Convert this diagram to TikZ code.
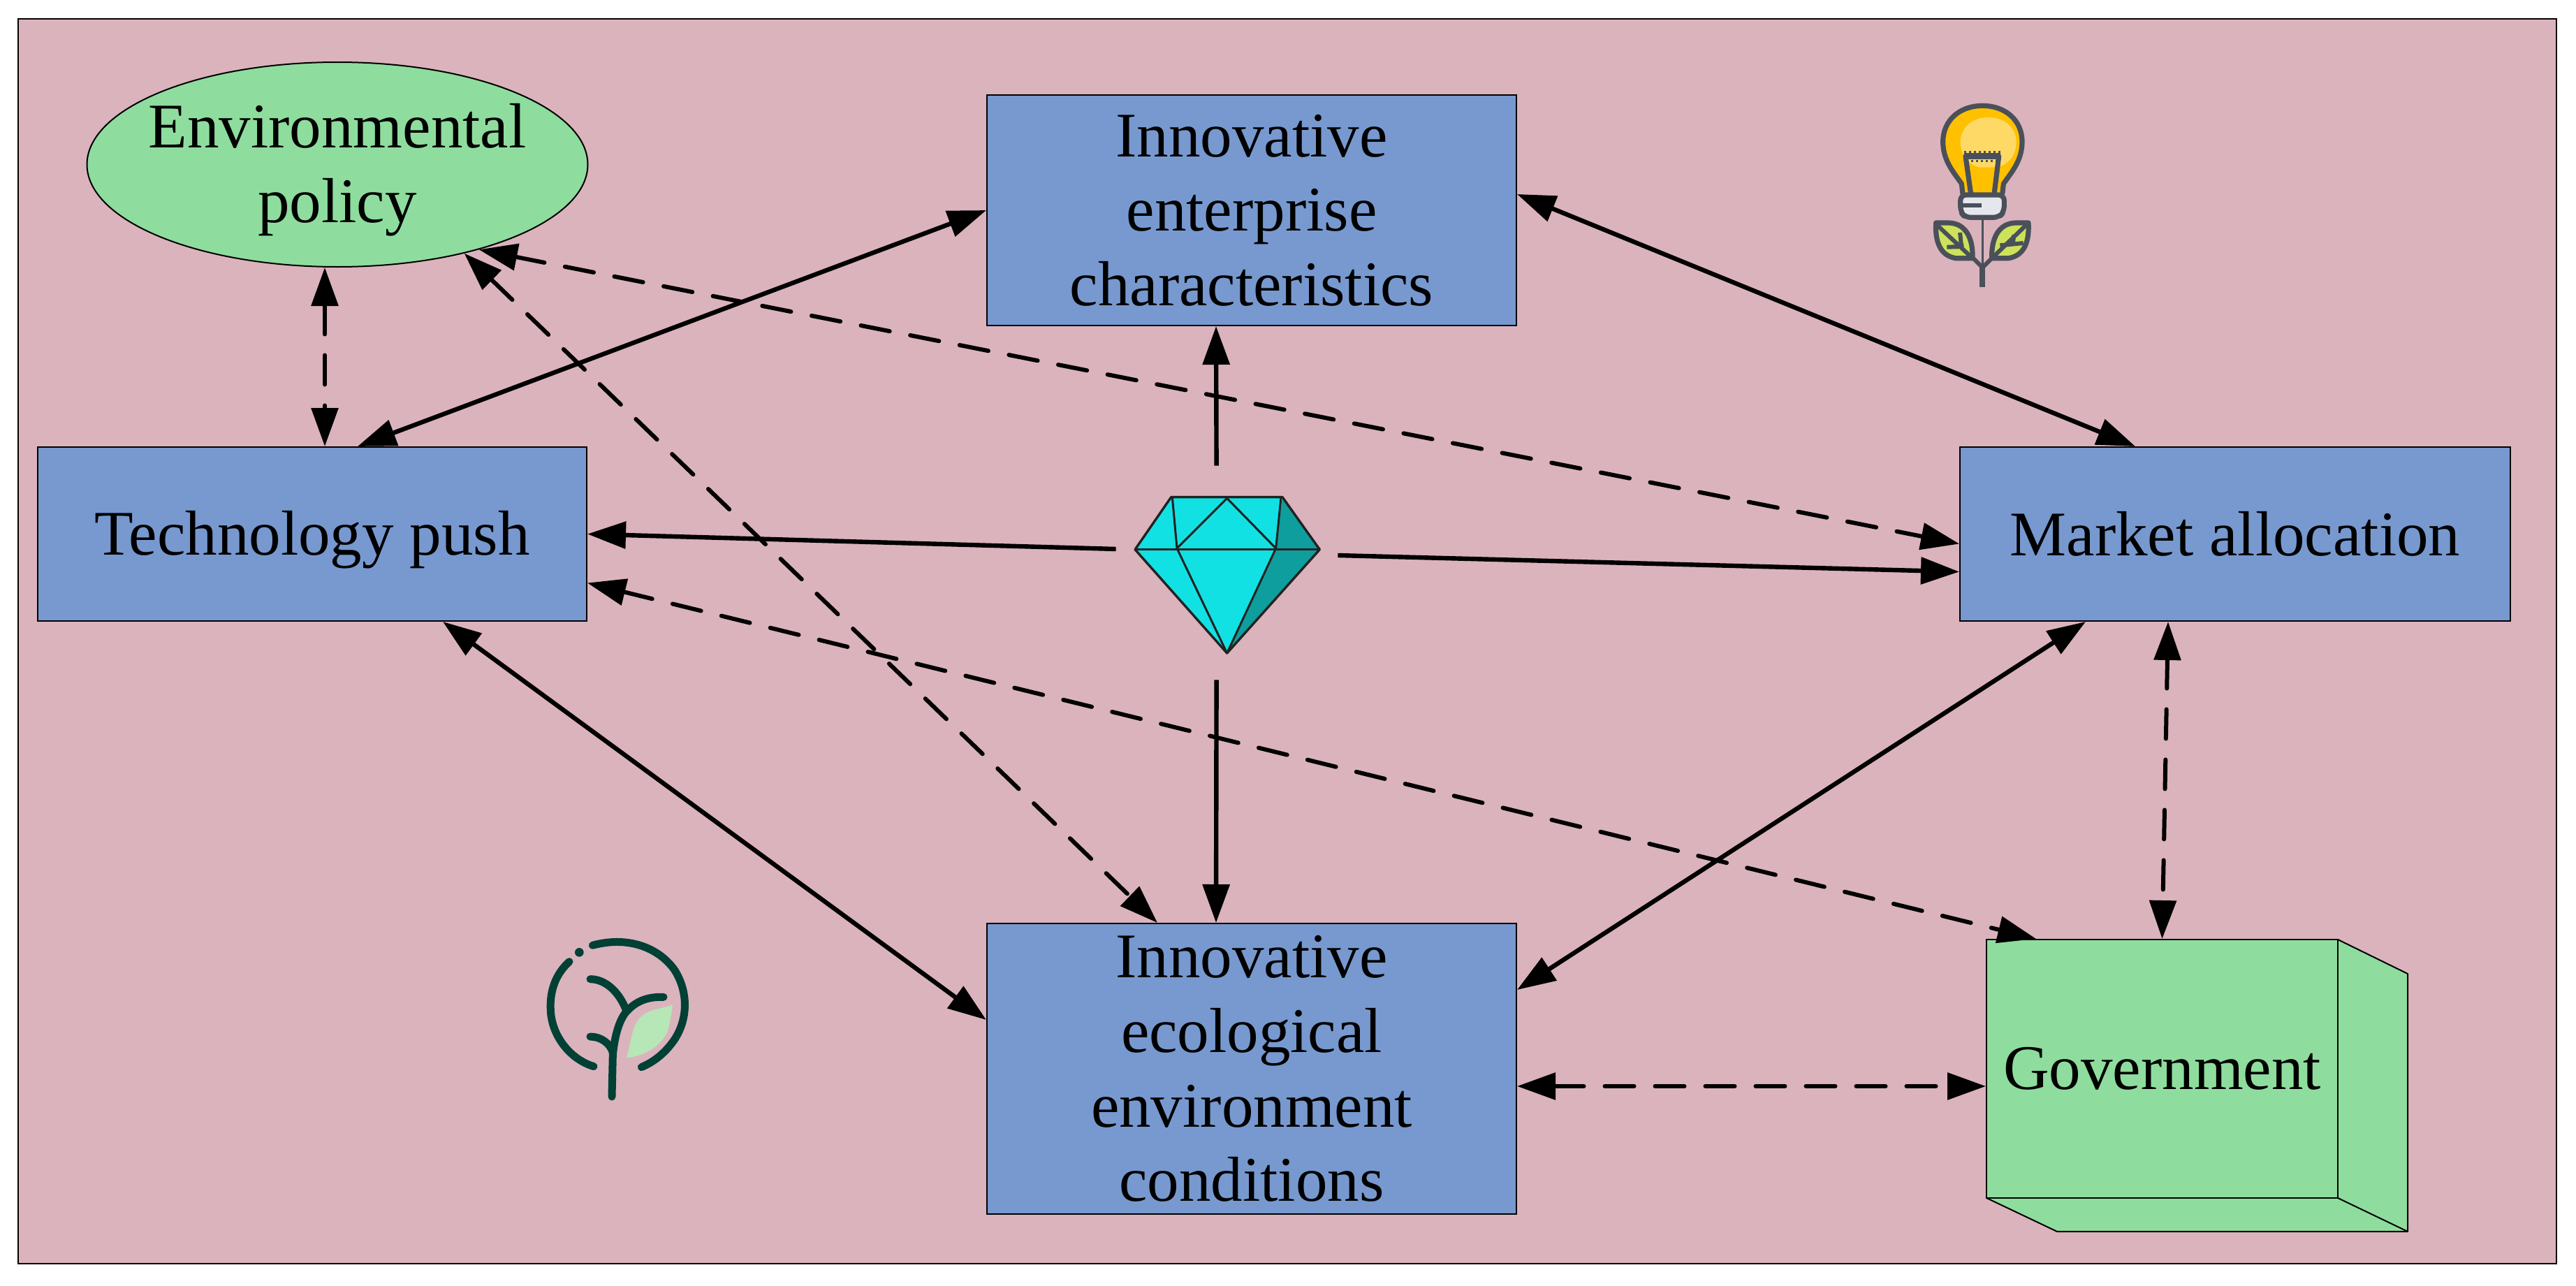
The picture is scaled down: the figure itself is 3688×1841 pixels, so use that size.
\documentclass[tikz,border=0pt]{standalone}
\usepackage{fontspec}
\setmainfont{Liberation Serif}
\usetikzlibrary{arrows.meta,calc,shapes.geometric}
\definecolor{bgpink}{HTML}{DBB3BD}
\definecolor{boxblue}{HTML}{7799CF}
\definecolor{boxgreen}{HTML}{8EDD9E}
\definecolor{gemlight}{HTML}{12E1E4}
\definecolor{gemdark}{HTML}{0E9E9E}
\definecolor{gemline}{HTML}{222222}
\definecolor{bulbline}{HTML}{4A505A}
\definecolor{bulbyellow}{HTML}{FFC000}
\definecolor{bulbpale}{HTML}{FFD966}
\definecolor{bulbbase}{HTML}{E4E7EC}
\definecolor{leafgreen}{HTML}{CDE25A}
\definecolor{treeline}{HTML}{004035}
\definecolor{treeleaf}{HTML}{B7E6B7}
\tikzset{
  px/.style={x=0.5pt,y=-0.5pt},
  txt/.style={align=center,font=\fontsize{45.5}{53.3}\selectfont,text=black,inner sep=0pt},
  bluebox/.style={txt,draw=black,line width=1pt,fill=boxblue,rectangle},
  greenbox/.style={txt,draw=black,line width=1pt,fill=boxgreen},
  tip/.tip={Triangle[length=27.5pt,width=19pt]},
  solidarrow/.style={line width=3.2pt,black},
  dasharrow/.style={line width=3pt,black,line cap=round,dash pattern=on 21pt off 15pt},
}
\begin{document}
\begin{tikzpicture}[px]
\useasboundingbox (0,0) rectangle (3688,1841);
\fill[white] (0,0) rectangle (3688,1841);
\draw[line width=1.2pt,fill=bgpink] (26,27) rectangle (3660,1809);

% Nodes
\node[greenbox,ellipse,minimum width=358.5pt,minimum height=146.5pt] (env) at (483,235.5) {};
\node[txt] (envlabel) at (483,243) {Environmental\\policy};
\node[bluebox,minimum width=379pt,minimum height=165pt] (ent) at (1792,301) {Innovative\\enterprise\\characteristics};
\node[bluebox,minimum width=393pt,minimum height=124.5pt,text depth=2pt] (tech) at (447,764.5) {Technology push};
\node[bluebox,minimum width=394pt,minimum height=124.5pt] (mkt) at (3200,764.5) {Market allocation};
\node[bluebox,minimum width=379pt,minimum height=208pt] (eco) at (1792,1530) {Innovative\\ecological\\environment\\conditions};
% Government box: side faces, then the front node
\fill[boxgreen,draw=black,line width=1pt,line join=round] (3347,1345) -- (3447,1394) -- (3447,1763) -- (2945,1763) -- (2844,1715) -- cycle;
\draw[line width=1pt] (3347,1715) -- (3447,1763);
\node[greenbox,rectangle,minimum width=251.5pt,minimum height=185pt] (gov) at (3095.5,1530) {Government};
% Gem placeholder
\node[rectangle,inner sep=0pt,minimum width=158.5pt,minimum height=153pt] (gem) at (1756.5,820) {};

% Gem drawing
\begin{scope}[shift={(1560,640)},x=0.16667pt,y=-0.16667pt,line join=round]
\fill[gemlight] (350,215) -- (828,215) -- (988,440) -- (590,885) -- (195,440) -- cycle;
\fill[gemdark] (828,215) -- (988,440) -- (590,885) -- (800,435) -- cycle;
\draw[gemline,line width=1.7pt] (350,215) -- (828,215) -- (988,440) -- (590,885) -- (195,440) -- cycle;
\draw[gemline,line width=1.5pt] (195,440) -- (988,440);
\draw[gemline,line width=1.5pt] (355,215) -- (375,435) -- (590,220) -- (800,435) -- (822,215);
\draw[gemline,line width=1.5pt] (375,435) -- (590,885) -- (800,435);
\end{scope}

% Bulb
\begin{scope}[shift={(2700,103)},x=0.16667pt,y=-0.16667pt,line join=round]
\fill[bulbyellow] (330,525) -- (325,480) .. controls (290,430) and (245,380) .. (245,300) .. controls (245,205) and (320,145) .. (415,145) .. controls (510,145) and (585,205) .. (585,300) .. controls (585,380) and (540,430) .. (505,480) -- (500,525) -- cycle;
\fill[bulbpale] (320,300) .. controls (320,240) and (370,195) .. (440,195) .. controls (510,195) and (560,240) .. (560,300) .. controls (560,370) and (510,415) .. (440,415) .. controls (370,415) and (320,370) .. (320,300) -- cycle;
\fill[bulbyellow] (365,410) -- (470,410) -- (465,520) -- (375,520) -- cycle;
\draw[bulbline,line width=3.6pt] (330,525) -- (325,480) .. controls (290,430) and (245,380) .. (245,300) .. controls (245,205) and (320,145) .. (415,145) .. controls (510,145) and (585,205) .. (585,300) .. controls (585,380) and (540,430) .. (505,480) -- (500,525);
\draw[bulbline,line width=3.6pt] (365,525) -- (342,362) -- (485,362) -- (465,525);
\draw[bulbline,line width=4.2pt] (335,362) -- (492,362);
\draw[bulbline,line width=1.2pt,dash pattern=on 1.5pt off 2pt] (335,343) -- (495,343) (345,382) -- (480,382);
\draw[bulbline,line width=1.7pt] (415,630) -- (415,925);
\draw[bulbline,line width=4pt] (415,840) -- (415,925);
\draw[bulbline,line width=3pt] (375,800) -- (415,840) -- (455,800);
\draw[bulbline,line width=3.6pt,fill=bulbbase,rounded corners=4pt] (320,528) -- (508,528) -- (508,600) -- (485,625) -- (340,625) -- (320,600) -- cycle;
\draw[bulbline,line width=3pt] (330,572) -- (410,572);
\draw[bulbline,line width=3.6pt,fill=leafgreen] (215,648) -- (270,648) .. controls (340,650) and (375,710) .. (372,800) -- (300,800) .. controls (240,790) and (210,740) .. (215,648) -- cycle;
\draw[bulbline,line width=3.6pt,fill=leafgreen] (612,648) -- (557,648) .. controls (487,650) and (452,710) .. (455,800) -- (527,800) .. controls (587,790) and (617,740) .. (612,648) -- cycle;
\draw[bulbline,line width=3pt] (222,660) -- (372,800) (262,752) -- (335,750) (318,690) -- (325,755);
\draw[bulbline,line width=3pt] (605,655) -- (455,800) (490,745) -- (590,735) (550,700) -- (545,740);
\end{scope}

% Tree
\begin{scope}[shift={(740,1310)},x=0.16667pt,y=-0.16667pt,line cap=round,line join=round]
\fill[treeleaf] (668,385) .. controls (620,405) and (570,400) .. (530,440) .. controls (490,480) and (490,560) .. (470,612) .. controls (540,610) and (640,560) .. (655,470) .. controls (660,440) and (668,410) .. (668,385) -- cycle;
\draw[treeline,line width=5.5pt] (325,130) .. controls (490,85) and (620,150) .. (680,240) .. controls (740,340) and (730,450) .. (680,530) .. controls (640,590) and (590,630) .. (535,653);
\draw[treeline,line width=5.5pt] (225,200) .. controls (170,250) and (140,320) .. (145,410) .. controls (150,520) and (230,620) .. (330,650);
\fill[treeline] (268,160) circle [radius=19];
\draw[treeline,line width=5.5pt] (408,780) -- (412,600) .. controls (420,520) and (440,440) .. (480,405) .. controls (520,365) and (570,350) .. (630,352);
\draw[treeline,line width=5.5pt] (315,275) .. controls (380,275) and (440,330) .. (470,410);
\draw[treeline,line width=5.5pt] (315,522) .. controls (360,522) and (400,550) .. (412,590);
\end{scope}

% Solid double-headed
\draw[solidarrow,tip-tip] (ent.west) -- ($(tech.north west)+(459,0)$);
\draw[solidarrow,tip-tip] ($(ent.east)+(0,-23)$) -- ($(mkt.north west)+(252,0)$);
\draw[solidarrow,tip-tip] ($(tech.south west)+(581,0)$) -- ($(eco.north west)+(0,139)$);
\draw[solidarrow,tip-tip] ($(eco.north east)+(0,96)$) -- ($(mkt.south west)+(181,0)$);
% From the gem
\draw[solidarrow,-tip] ($(gem.north west)+(144,0)$) -- ($(ent.south west)+(329,0)$);
\draw[solidarrow,-tip] ($(gem.west)+(0,-34)$) -- (tech.east);
\draw[solidarrow,-tip] ($(gem.east)+(0,-25)$) -- ($(mkt.west)+(0,54)$);
\draw[solidarrow,-tip] ($(gem.south west)+(144,0)$) -- ($(eco.north west)+(329,0)$);
% Dashed double-headed
\draw[dasharrow,tip-tip] ($(env.south)+(-18,0)$) -- ($(tech.north west)+(412,0)$);
\draw[dasharrow,tip-tip] (env.-35) -- ($(eco.north west)+(245,0)$);
\draw[dasharrow,tip-tip] (env.-31.4) -- ($(mkt.west)+(0,14)$);
\draw[dasharrow,tip-tip] ($(tech.east)+(0,70)$) -- ($(gov.north west)+(72,0)$);
\draw[dasharrow,tip-tip] ($(mkt.south west)+(299,0)$) -- (gov.north);
\draw[dasharrow,tip-tip] ($(eco.east)+(0,25)$) -- ($(gov.west)+(0,25)$);
\end{tikzpicture}
\end{document}
